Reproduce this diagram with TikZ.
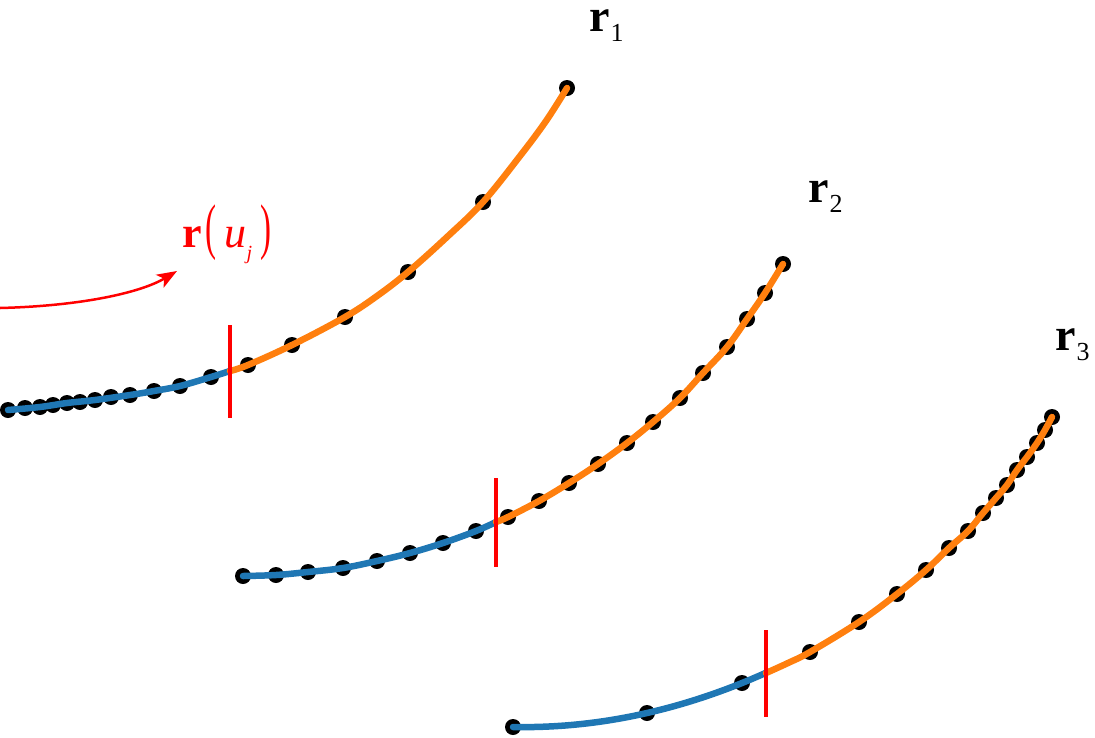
\documentclass[tikz,border=0pt]{standalone}
\usepackage{fontspec}
\setmainfont{Liberation Serif}
\usepackage{graphicx}
\usetikzlibrary{arrows.meta}
\definecolor{mblue}{HTML}{1F77B4}
\definecolor{morange}{HTML}{FF7F0E}
\begin{document}
\begin{tikzpicture}[x=1pt,y=-1pt,
  seg/.style={line width=6.5pt, line cap=round, smooth, tension=0.6},
  bluecurve/.style={seg, draw=mblue},
  orangecurve/.style={seg, draw=morange},
  cut/.style={draw=red, line width=4pt},
  dot/.style={fill=black},
  lab/.style={anchor=base west, inner sep=0pt, font=\fontsize{46}{50}\selectfont}]
\useasboundingbox (0,0) rectangle (1095,737);

% ---------- dots ----------
\foreach \x/\y in {8/410,25/408,40/407,53/405,67/403,80/402,95/400,111/397,130/395,154/391,180/386,211/377,
  248/365,292/345,345/317,408/272,483/202,567/88}
  \fill[dot] (\x,\y) circle[radius=8pt];
\foreach \x/\y in {243/576,276/575,308/572,343/568,377/561,410/553,443/543,476/531,
  508/517,539/501,569/483,598/464,627/443,653/422,680/398,703/373,727/347,747/319,765/293,783/264}
  \fill[dot] (\x,\y) circle[radius=8pt];
\foreach \x/\y in {513/727,647/713,742/683,
  810/652,859/622,897/594,926/570,949/548,968/531,983/513,996/498,1007/485,1017/470,1027/457,1037/443,1045/430,1052/417}
  \fill[dot] (\x,\y) circle[radius=8pt];

% ---------- split points ----------
\coordinate (s1) at (230,371);
\coordinate (s2) at (496,522);
\coordinate (s3) at (766,673);

% ---------- curve 1 ----------
\draw[bluecurve] plot coordinates {(8,410) (40,407) (67,403) (95,400) (130,395) (154,391) (180,386) (211,377) (230,371)};
\draw[orangecurve] plot coordinates {(230,371) (248,365) (292,345) (345,317) (377,296) (408,272) (447,237) (483,202) (520,156) (546,121) (567,88)};
% ---------- curve 2 ----------
\draw[bluecurve] plot coordinates {(243,576) (276,575) (308,572) (343,568) (377,561) (410,553) (443,543) (476,531) (496,522)};
\draw[orangecurve] plot coordinates {(496,522) (508,517) (539,501) (569,483) (598,464) (627,443) (653,422) (680,398) (703,373) (727,347) (747,319) (765,293) (783,264)};
% ---------- curve 3 ----------
\draw[seg, draw=mblue, line cap=round] plot[domain=0:2.53, samples=30] ({513+100*\x}, {727+1.92*\x-9.23*\x*\x});
\draw[orangecurve] plot coordinates {(766,673) (788,663) (810,652) (859,622) (897,594) (926,570) (949,548) (968,531) (983,513) (996,498) (1007,485) (1017,470) (1027,457) (1037,443) (1045,430) (1052,417)};

% ---------- cuts ----------
\draw[cut] ([yshift=46pt]s1) -- ([yshift=-47pt]s1);
\draw[cut] ([yshift=44pt]s2) -- ([yshift=-45pt]s2);
\draw[cut] ([yshift=43pt]s3) -- ([yshift=-44pt]s3);

% ---------- labels ----------
\node[lab] (r1) at (589,31) {\textbf{r}\hspace{1pt}\raisebox{-10pt}{\fontsize{26}{28}\selectfont 1}};
\node[lab] (r2) at (808,202) {\textbf{r}\hspace{1pt}\raisebox{-10pt}{\fontsize{26}{28}\selectfont 2}};
\node[lab] (r3) at (1055,350) {\textbf{r}\hspace{1pt}\raisebox{-10pt}{\fontsize{26}{28}\selectfont 3}};

\node[anchor=base west, inner sep=0pt, text=red, font=\fontsize{44}{48}\selectfont] (ru) at (182,247)
  {\textbf{r}\hspace{4pt}\scalebox{0.75}[1.4]{(}\hspace{8pt}\textit{u}\raisebox{-12pt}{\fontsize{20}{22}\selectfont\textit{j}}\hspace{8pt}\scalebox{0.75}[1.4]{)}};

% ---------- red arrow ----------
\coordinate (a0) at (0,308);
\coordinate (a1) at (177,271);
\draw[red, line width=2.5pt, -{Stealth[length=20pt,width=15pt,inset=5pt]}] (a0) .. controls (80,306) and (140,293) .. (a1);
\end{tikzpicture}
\end{document}
